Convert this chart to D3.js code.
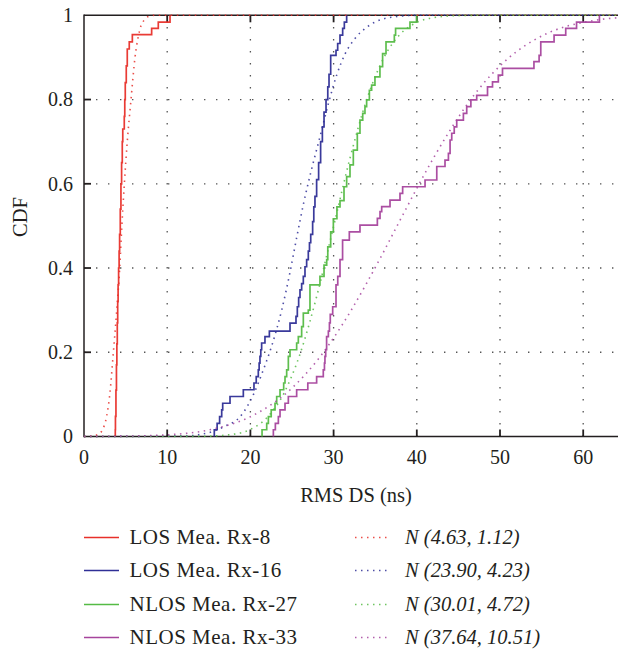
<!DOCTYPE html>
<html><head><meta charset="utf-8">
<script src="https://cdn.jsdelivr.net/npm/d3@7"></script>
<style>
body{margin:0;background:#fff}
svg{display:block}
text{font-family:"Liberation Serif","Times New Roman",serif;fill:#231f20}
</style>
</head><body>
<svg id="chart" width="618" height="650"></svg>
<script>
// ---------- data ----------
const xTicks = [0, 10, 20, 30, 40, 50, 60];
const yTicks = [0, 0.2, 0.4, 0.6, 0.8, 1];
const seriesNames = ["LOS Mea. Rx-8", "LOS Mea. Rx-16", "NLOS Mea. Rx-27", "NLOS Mea. Rx-33"];
const fitNames = ["N (4.63, 1.12)", "N (23.90, 4.23)", "N (30.01, 4.72)", "N (37.64, 10.51)"];
const colors = ["#e8302a", "#2f2f96", "#55bb45", "#a6449d"];

// measured empirical CDFs: [RMS DS (ns), CDF after step]
const rx8Steps = [[3.76,0],[3.76,0.016],[3.78,0.048],[3.84,0.11],[3.9,0.17],[3.95,0.22],[4.0,0.27],[4.05,0.32],[4.1,0.36],[4.16,0.40],[4.22,0.44],[4.28,0.48],[4.36,0.54],[4.44,0.60],[4.52,0.65],[4.6,0.70],[4.66,0.73],[4.84,0.76],[4.9,0.80],[4.96,0.84],[5.08,0.88],[5.2,0.92],[5.44,0.937],[5.81,0.954],[8.13,0.969],[8.93,0.984],[10.34,1.0]];
const rx16Steps = [[15.66,0],[15.66,0.016],[16.0,0.031],[16.3,0.047],[16.55,0.063],[16.67,0.079],[17.55,0.095],[19.15,0.111],[20.43,0.127],[20.7,0.142],[20.95,0.158],[21.05,0.174],[21.15,0.19],[21.25,0.206],[21.35,0.222],[21.75,0.237],[22.28,0.25],[24.76,0.269],[25.48,0.285],[25.64,0.308],[25.8,0.33],[25.96,0.348],[26.16,0.363],[26.36,0.38],[26.56,0.403],[26.76,0.42],[26.96,0.44],[27.1,0.46],[27.25,0.48],[27.48,0.51],[27.62,0.545],[27.76,0.57],[27.96,0.61],[28.2,0.65],[28.44,0.70],[28.65,0.735],[28.85,0.77],[29.09,0.80],[29.3,0.83],[29.45,0.86],[29.65,0.905],[30.29,0.917],[30.49,0.933],[30.77,0.953],[31.09,0.969],[31.29,0.984],[31.57,1.0]];
const rx27Steps = [[21.4,0],[21.4,0.016],[21.96,0.031],[22.16,0.047],[22.5,0.063],[22.96,0.079],[23.16,0.095],[23.56,0.111],[24.0,0.127],[24.16,0.142],[24.36,0.158],[24.56,0.19],[24.76,0.206],[25.56,0.222],[25.76,0.237],[26.16,0.261],[26.36,0.293],[26.96,0.30],[27.16,0.36],[28.36,0.38],[28.85,0.407],[29.17,0.42],[29.3,0.45],[29.65,0.486],[29.97,0.517],[30.4,0.545],[30.77,0.56],[31.25,0.593],[31.57,0.617],[31.97,0.645],[32.37,0.68],[32.85,0.72],[33.17,0.751],[33.5,0.767],[33.77,0.783],[33.97,0.799],[34.3,0.822],[34.57,0.834],[34.97,0.854],[35.57,0.878],[35.89,0.909],[36.3,0.937],[37.3,0.953],[37.45,0.969],[39.18,0.984],[39.98,1.0]];
const rx33Steps = [[22.76,0],[22.76,0.016],[23.0,0.031],[23.36,0.047],[23.56,0.063],[24.16,0.079],[24.56,0.095],[25.56,0.111],[26.9,0.127],[27.96,0.142],[28.76,0.158],[28.9,0.174],[28.96,0.19],[29.05,0.206],[29.16,0.237],[29.37,0.25],[29.5,0.27],[29.6,0.29],[29.89,0.308],[30.29,0.36],[30.5,0.38],[30.77,0.42],[31.08,0.466],[31.89,0.486],[33.17,0.502],[35.26,0.518],[35.58,0.534],[35.78,0.546],[36.78,0.561],[37.98,0.577],[38.3,0.593],[40.99,0.609],[42.4,0.641],[43.39,0.656],[43.8,0.672],[44.0,0.704],[44.2,0.72],[44.5,0.735],[44.8,0.751],[45.6,0.767],[46.0,0.783],[46.5,0.799],[47.2,0.81],[48.5,0.83],[49.1,0.842],[49.8,0.858],[50.3,0.874],[54.08,0.89],[54.7,0.905],[54.9,0.937],[56.5,0.953],[57.9,0.969],[59.2,0.984],[61.95,1.0]];

// fitted normal CDFs: [RMS DS (ns), CDF]
const rx8Fit = [[0,0],[1.0,0.001],[1.7,0.005],[2.2,0.015],[2.72,0.048],[3.1,0.1],[3.53,0.2],[3.9,0.29],[4.29,0.4],[4.55,0.5],[4.85,0.6],[5.2,0.7],[5.65,0.8],[6.13,0.9],[6.53,0.95],[6.85,0.975],[7.3,0.99],[7.73,0.997],[8.5,1],[65,1]];
const rx16Fit = [[0,0],[12,0.001],[14,0.005],[15.5,0.012],[17,0.025],[18.67,0.045],[20.35,0.099],[21.55,0.158],[22.56,0.215],[23.76,0.30],[24.76,0.39],[25.56,0.472],[26.4,0.554],[27.36,0.635],[28.37,0.712],[29.37,0.79],[30.37,0.858],[31.37,0.908],[32.57,0.945],[34,0.972],[35.2,0.986],[37.6,0.997],[40,1],[65,1]];
const rx27Fit = [[0,0],[14,0.0003],[18,0.0055],[20,0.017],[22,0.045],[24,0.1015],[26,0.198],[28,0.335],[30,0.499],[32,0.663],[34,0.801],[36,0.898],[38,0.955],[40,0.983],[42,0.9945],[45,0.9993],[48,1],[65,1]];
const rx33Fit = [[0,0.0002],[5,0.001],[10,0.004],[15,0.0156],[20,0.047],[25,0.115],[28,0.18],[30,0.234],[32,0.296],[34,0.365],[36,0.438],[38,0.514],[40,0.589],[42,0.661],[44,0.727],[46,0.787],[48,0.838],[50,0.880],[52,0.914],[54,0.940],[56,0.960],[58,0.974],[60,0.983],[62,0.990],[65,0.995]];

const stepSeries = [rx8Steps, rx16Steps, rx27Steps, rx33Steps];
const fitSeries = [rx8Fit, rx16Fit, rx27Fit, rx33Fit];

// ---------- layout ----------
const svg = d3.select("#chart");
const pL = 84, pT = 15.3, pB = 436.5;
const x = d3.scaleLinear().domain([0, 65]).range([pL, pL + 65 * 8.32]);
const y = d3.scaleLinear().domain([0, 1]).range([pB, pT]);
const pR = x(65);
const ink = "#231f20";

// grid
const grid = svg.append("g");
grid.selectAll("line.v").data(xTicks.filter(d => d > 0)).join("line")
  .attr("x1", d => x(d)).attr("x2", d => x(d)).attr("y1", pB).attr("y2", pT)
  .attr("stroke", "#555").attr("stroke-width", 1.3).attr("stroke-dasharray", "1.4 10.6");
grid.selectAll("line.h").data(yTicks.filter(d => d > 0 && d < 1)).join("line")
  .attr("x1", pL).attr("x2", pR).attr("y1", d => y(d)).attr("y2", d => y(d))
  .attr("stroke", "#555").attr("stroke-width", 1.3).attr("stroke-dasharray", "1.4 10.6");

// frame
const frame = svg.append("g").attr("stroke", ink).attr("stroke-width", 1.5).attr("fill", "none");
frame.append("line").attr("x1", pL).attr("x2", pL).attr("y1", pT - 0.7).attr("y2", pB + 0.7);
frame.append("line").attr("x1", pL).attr("x2", pR).attr("y1", pB).attr("y2", pB);
frame.append("line").attr("x1", pL).attr("x2", pR).attr("y1", pT).attr("y2", pT);

// ticks (inward)
const tk = svg.append("g").attr("stroke", ink).attr("stroke-width", 1.8);
xTicks.filter(d => d > 0).forEach(d => {
  tk.append("line").attr("x1", x(d)).attr("x2", x(d)).attr("y1", pB).attr("y2", pB - 7);
  tk.append("line").attr("x1", x(d)).attr("x2", x(d)).attr("y1", pT).attr("y2", pT + 7);
});
yTicks.filter(d => d > 0 && d < 1).forEach(d => {
  tk.append("line").attr("x1", pL).attr("x2", pL + 7).attr("y1", y(d)).attr("y2", y(d));
});

// tick labels
svg.append("g").selectAll("text").data(xTicks).join("text")
  .attr("x", d => x(d)).attr("y", 464).attr("text-anchor", "middle")
  .attr("font-size", 20).text(d => d);
svg.append("g").selectAll("text").data(yTicks).join("text")
  .attr("x", 73).attr("y", d => y(d) + 6.8).attr("text-anchor", "end")
  .attr("font-size", 20).text(d => d3.format("~g")(d));

// axis titles
svg.append("text").attr("x", 356).attr("y", 502).attr("text-anchor", "middle")
  .attr("font-size", 20.5).text("RMS DS (ns)");
svg.append("text").attr("transform", "translate(27,217) rotate(-90)").attr("text-anchor", "middle")
  .attr("font-size", 20.5).text("CDF");

// curves
const stepLine = d3.line().x(d => x(d[0])).y(d => y(d[1])).curve(d3.curveStepAfter);
const fitLine = d3.line().x(d => x(d[0])).y(d => y(d[1])).curve(d3.curveMonotoneX);

const curves = svg.append("g");
stepSeries.forEach((s, i) => {
  curves.append("path").attr("d", stepLine(s)).attr("fill", "none")
    .attr("stroke", colors[i]).attr("stroke-width", 1.7).attr("stroke-opacity", 0.95);
});
fitSeries.forEach((s, i) => {
  curves.append("path").attr("d", fitLine(s)).attr("fill", "none")
    .attr("stroke", colors[i]).attr("stroke-width", 1.6).attr("stroke-opacity", 0.85)
    .attr("stroke-dasharray", "1.5 4.5");
});

// legend
const legY = [544, 577, 611, 644];
const leg = svg.append("g");
seriesNames.forEach((n, i) => {
  leg.append("line").attr("x1", 84).attr("x2", 119).attr("y1", legY[i] - 6.5).attr("y2", legY[i] - 6.5)
    .attr("stroke", colors[i]).attr("stroke-width", 1.7);
  leg.append("text").attr("x", 129.5).attr("y", legY[i]).attr("font-size", 21)
    .attr("letter-spacing", 0.5).text(n);
});
fitNames.forEach((n, i) => {
  leg.append("line").attr("x1", 355).attr("x2", 391).attr("y1", legY[i] - 6.5).attr("y2", legY[i] - 6.5)
    .attr("stroke", colors[i]).attr("stroke-width", 1.5).attr("stroke-opacity", 0.85)
    .attr("stroke-dasharray", "1.5 4.5");
  leg.append("text").attr("x", 405).attr("y", legY[i]).attr("font-size", 20.5)
    .attr("font-style", "italic").text(n);
});
</script>
</body></html>
